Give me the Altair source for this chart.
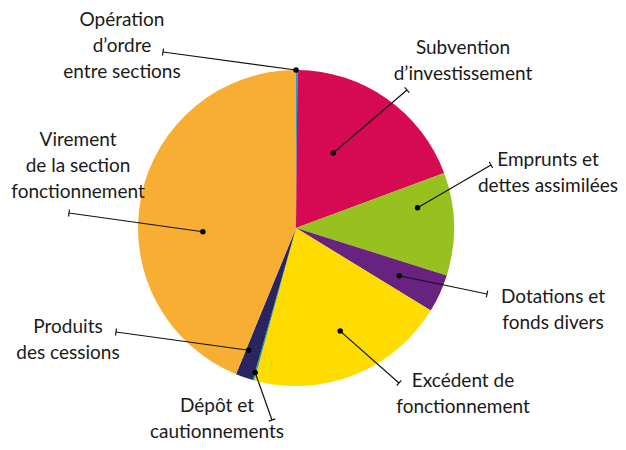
import math
import altair as alt
import pandas as pd

# ---- data ----
categories = [
    "Opération d’ordre entre sections",
    "Subvention d’investissement",
    "Emprunts et dettes assimilées",
    "Dotations et fonds divers",
    "Excédent de fonctionnement",
    "Dépôt et cautionnements",
    "Produits des cessions",
    "Virement de la section fonctionnement",
]
values = [0.15, 19.2, 10.5, 3.9, 20.5, 0.15, 1.8, 43.8]
label_texts = [
    "Opération\nd’ordre\nentre sections",
    "Subvention\nd’investissement",
    "Emprunts et\ndettes assimilées",
    "Dotations et\nfonds divers",
    "Excédent de\nfonctionnement",
    "Dépôt et\ncautionnements",
    "Produits\ndes cessions",
    "Virement\nde la section\nfonctionnement",
]
colors = ["#1E9ED9", "#D60A52", "#97C11F", "#68227F", "#FFDC00",
          "#1FA887", "#2A2461", "#F7AE33"]

# ---- layout (annotation placement) ----
W, H = 610, 434
CX, CY, R = 288, 220, 158
# anchor dot: angle (deg, clockwise from top), radius fraction
dot_polar = [(0.0, 1.0), (26.4, 0.53), (80.5, 0.78), (114.8, 0.72),
             (156.8, 0.71), (195.8, 0.95), (201.2, 0.83), (267.7, 0.59)]
# end of leader line (px, chart coords)
tick_end = [(155, 44), (399, 82), (483, 157), (479, 286),
            (391, 375), (264, 412), (108, 324), (61, 205)]
# label first-line centers (px, chart coords)
label_pos = [(114, 12), (455, 40), (540, 152), (545, 289),
             (455, 373), (209, 398), (60, 319), (70, 132)]

df = pd.DataFrame({"cat": categories, "value": values,
                   "idx": list(range(len(values)))})

rows = []
for i, cat in enumerate(categories):
    ang, rf = dot_polar[i]
    a = math.radians(ang)
    dx = CX + rf * R * math.sin(a)
    dy = CY - rf * R * math.cos(a)
    ex, ey = tick_end[i]
    vx, vy = ex - dx, ey - dy
    n = math.hypot(vx, vy)
    px, py = -vy / n, vx / n
    rows.append({"cat": cat, "dx": dx, "dy": dy, "ex": ex, "ey": ey,
                 "t1x": ex + 3.5 * px, "t1y": ey + 3.5 * py,
                 "t2x": ex - 3.5 * px, "t2y": ey - 3.5 * py,
                 "lx": label_pos[i][0], "ly": label_pos[i][1],
                 "label": label_texts[i]})
ann = pd.DataFrame(rows)

pie = alt.Chart(df).mark_arc(radius=R, stroke=None).encode(
    theta=alt.Theta("value:Q", stack=True),
    order=alt.Order("idx:Q"),
    color=alt.Color("cat:N", scale=alt.Scale(domain=categories, range=colors),
                    legend=None),
    x=alt.value(CX), y=alt.value(CY),
)

base = alt.Chart(ann)
leader = base.mark_rule(color="#111111", strokeWidth=1.2).encode(
    x=alt.X("dx:Q", scale=None), y=alt.Y("dy:Q", scale=None),
    x2="ex:Q", y2="ey:Q",
)
ticks = base.mark_rule(color="#111111", strokeWidth=1.2).encode(
    x=alt.X("t1x:Q", scale=None), y=alt.Y("t1y:Q", scale=None),
    x2="t2x:Q", y2="t2y:Q",
)
dots = base.mark_circle(color="#000000", opacity=1, size=30).encode(
    x=alt.X("dx:Q", scale=None), y=alt.Y("dy:Q", scale=None),
)
labels = base.mark_text(font="Lato", fontSize=19, color="#1a1a1a",
                        align="center", baseline="middle", lineBreak="\n",
                        lineHeight=26).encode(
    x=alt.X("lx:Q", scale=None), y=alt.Y("ly:Q", scale=None),
    text="label:N",
)

chart = alt.layer(pie, leader, ticks, dots, labels).properties(
    width=W, height=H, padding=0,
    autosize=alt.AutoSizeParams(type="none"),
).configure_view(stroke=None)

chart.save("out.html", embed_options={"renderer": "svg", "actions": False})
